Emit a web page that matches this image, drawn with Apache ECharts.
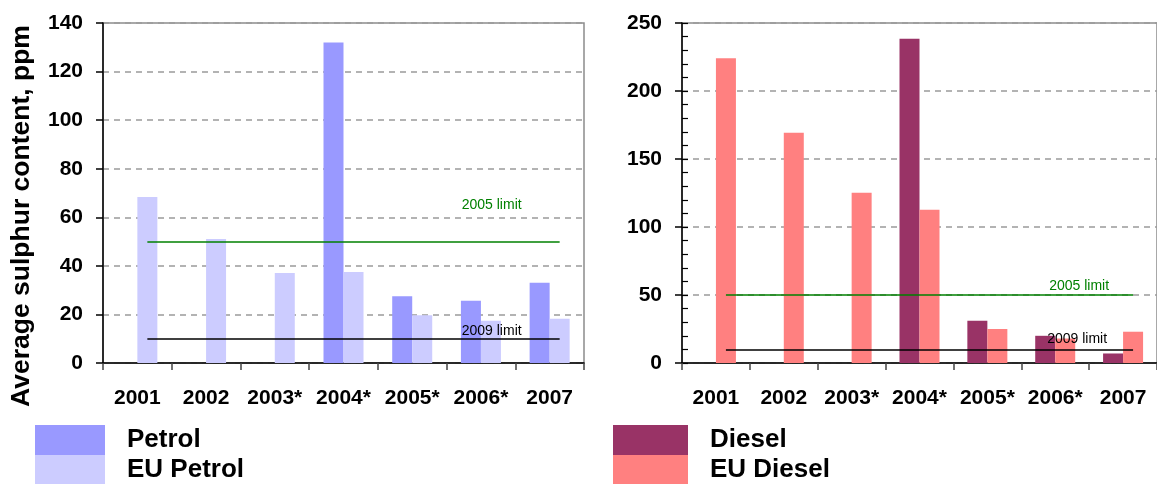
<!DOCTYPE html>
<html>
<head>
<meta charset="utf-8">
<script src="https://cdn.jsdelivr.net/npm/echarts@6/dist/echarts.min.js"></script>
<style>
  html, body { margin: 0; padding: 0; background: #fff; }
  #chart { width: 1157px; height: 484px; }
</style>
</head>
<body>
<div id="chart"></div>
<script>
// Years surveyed (* = partial data years)
const categories = ['2001', '2002', '2003*', '2004*', '2005*', '2006*', '2007'];

// Average sulphur content, ppm
const petrol   = [null, null, null, 132, 27.5, 25.6, 33];
const euPetrol = [68.4, 51.1, 37.1, 37.5, 19.7, 17.4, 18.2];
const diesel   = [null, null, null, 238.5, 31, 20, 7];
const euDiesel = [224, 169.3, 125.2, 112.7, 25, 18, 23];

// Regulatory limits, ppm
const limit2005 = 50;
const limit2009 = 10;

const yTitle = 'Average sulphur content, ppm';
const FONT = '"Liberation Sans", Arial, sans-serif';

const chart = echarts.init(document.getElementById('chart'), null, { renderer: 'canvas' });

function limitLines(dxGreen, dyGreen, dxBlack, dyBlack) {
  const first = categories[0];
  const last = categories[categories.length - 1];
  return {
    silent: true,
    symbol: 'none',
    animation: false,
    data: [
      [
        { coord: [first, limit2005], lineStyle: { color: '#008000', width: 1.5, type: 'solid' },
          label: { show: true, formatter: '2005 limit', position: 'insideEndTop',
                   distance: [dxGreen, dyGreen], color: '#008000', fontSize: 14, fontFamily: FONT } },
        { coord: [last, limit2005] }
      ],
      [
        { coord: [first, limit2009], lineStyle: { color: '#000000', width: 1.5, type: 'solid' },
          label: { show: true, formatter: '2009 limit', position: 'insideEndTop',
                   distance: [dxBlack, dyBlack], color: '#000000', fontSize: 14, fontFamily: FONT } },
        { coord: [last, limit2009] }
      ]
    ]
  };
}

const catAxis = (gridIndex) => ({
  type: 'category',
  gridIndex,
  data: categories,
  axisLine: { lineStyle: { color: '#000', width: 1.5 } },
  axisTick: { show: true, length: 7, lineStyle: { color: '#444', width: 1.5 } },
  axisLabel: { interval: 0, color: '#000', fontSize: 21, fontWeight: 'bold', fontFamily: FONT, margin: 25 },
  splitLine: { show: false }
});

const valAxis = (gridIndex, max, interval) => ({
  type: 'value',
  gridIndex,
  min: 0,
  max,
  interval,
  axisLine: { show: true, lineStyle: { color: '#000', width: 1.5 } },
  axisTick: { show: true, length: 7, lineStyle: { color: '#000', width: 1.5 } },
  axisLabel: { color: '#000', fontSize: 21, fontWeight: 'bold', fontFamily: FONT, margin: 20 },
  splitLine: { show: true, lineStyle: { color: '#9a9a9a', width: 1.5, type: [6, 5] } }
});

const legendBlock = (left, swatchWidth, names) => ({
  left, top: 425, height: 80, padding: 0,
  orient: 'vertical', itemWidth: swatchWidth, itemHeight: 30, itemGap: 0,
  icon: 'rect', selectedMode: false,
  textStyle: { color: '#000', fontSize: 26, fontWeight: 'bold', fontFamily: FONT, padding: [0, 0, 0, 17] },
  data: names
});

const option = {
  animation: false,
  backgroundColor: '#fff',
  grid: [
    { left: 103, width: 481, top: 23, height: 340, show: true, borderColor: '#8c8c8c', borderWidth: 1.5, backgroundColor: 'transparent' },
    { left: 682, width: 482, top: 23, height: 340, show: true, borderColor: '#8c8c8c', borderWidth: 1.5, backgroundColor: 'transparent' }
  ],
  xAxis: [catAxis(0), catAxis(1)],
  yAxis: [
    valAxis(0, 140, 20),
    valAxis(1, 250, 50),
    // inner minor ticks of the diesel axis
    {
      type: 'value', gridIndex: 1, min: 0, max: 250, interval: 10, position: 'left',
      axisLine: { show: false },
      axisTick: { show: true, inside: true, length: 6, lineStyle: { color: '#000', width: 1.2 } },
      axisLabel: { show: false },
      splitLine: { show: false }
    }
  ],
  legend: [
    legendBlock(35, 70, ['Petrol', 'EU Petrol']),
    legendBlock(613, 75, ['Diesel', 'EU Diesel'])
  ],
  graphic: [
    {
      type: 'text', x: 22, y: 216, rotation: Math.PI / 2,
      style: { text: yTitle, fill: '#000', font: 'bold 26.5px ' + FONT, textAlign: 'center', textVerticalAlign: 'middle' }
    }
  ],
  series: [
    { name: 'Petrol', type: 'bar', xAxisIndex: 0, yAxisIndex: 0, data: petrol,
      barWidth: 20, barGap: '0%', itemStyle: { color: '#9999FF' } },
    { name: 'EU Petrol', type: 'bar', xAxisIndex: 0, yAxisIndex: 0, data: euPetrol,
      barWidth: 20, barGap: '0%', itemStyle: { color: '#CCCCFF' },
      markLine: limitLines(38, 29, 38, 1) },
    { name: 'Diesel', type: 'bar', xAxisIndex: 1, yAxisIndex: 1, data: diesel,
      barWidth: 20, barGap: '0%', itemStyle: { color: '#993366' } },
    { name: 'EU Diesel', type: 'bar', xAxisIndex: 1, yAxisIndex: 1, data: euDiesel,
      barWidth: 20, barGap: '0%', itemStyle: { color: '#FF8080' },
      markLine: limitLines(24, 2, 26, 3) }
  ]
};

chart.setOption(option);
</script>
</body>
</html>
